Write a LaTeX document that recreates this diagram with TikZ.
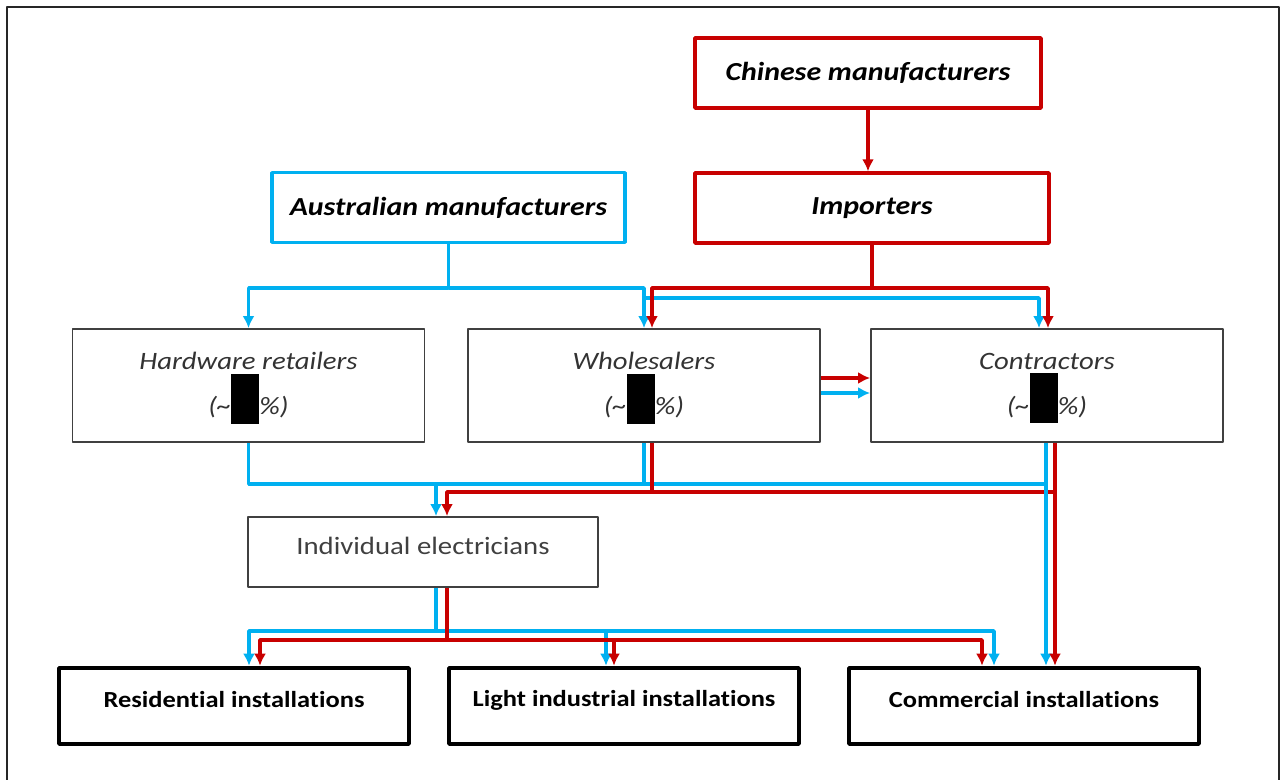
\documentclass[tikz,border=0pt]{standalone}
\usepackage{fontspec}
\setmainfont{Carlito}[FakeStretch=1.15, Ligatures=NoCommon]
\usepackage{tikz}
\usetikzlibrary{positioning,calc,arrows.meta}

\definecolor{redcol}{RGB}{200,0,0}
\definecolor{bluecol}{RGB}{0,176,240}
\definecolor{greycol}{RGB}{64,64,64}

\tikzset{
  redbox/.style={draw=redcol, line width=1.7pt, rectangle, minimum height=35pt,
    font=\fontsize{13}{15}\selectfont\bfseries\itshape},
  bluebox/.style={draw=bluecol, line width=1.7pt, rectangle, minimum height=35pt,
    font=\fontsize{13}{15}\selectfont\bfseries\itshape},
  chanbox/.style={draw=greycol, line width=0.9pt, rectangle, minimum width=176pt,
    minimum height=56.5pt, align=center, text=black!80,
    font=\fontsize{12.5}{22.5}\selectfont\itshape},
  elecbox/.style={draw=greycol, line width=0.9pt, rectangle, minimum width=175pt,
    minimum height=35pt, text=black!75, font=\fontsize{12.5}{15}\selectfont},
  usebox/.style={draw=black, line width=2.3pt, rectangle, minimum width=175pt,
    minimum height=38pt, font=\fontsize{11.5}{15}\selectfont\bfseries},
  blueline/.style={draw=bluecol, line width=1.6pt},
  redline/.style={draw=redcol, line width=1.6pt},
}
\newcommand{\hidden}{\textcolor{black}{\smash{\rule[-4.5pt]{14pt}{25pt}}}}
\newcommand{\up}[1]{\raisebox{3pt}[\height][\depth]{#1}}

\begin{document}
\begin{tikzpicture}[>={Latex[length=6pt,width=6pt]}, line join=bevel, x=0.5pt, y=-0.5pt]
  \useasboundingbox (0,0) rectangle (1281,780);
  % frame
  \draw[line width=1.1pt, black!85] (7,790) -- (7,7) -- (1279,7) -- (1279,790);
  %%
  % Node: suppliers
  \node[redbox, minimum width=173pt] (chn) at (868,73) {Chinese manufacturers};
  \node[redbox, minimum width=177pt] (imp) at (872,208) {Importers};
  \node[bluebox, minimum width=176.5pt] (aus) at (448.5,207.5) {Australian manufacturers};
  % Node: channels
  \node[chanbox] (hard) at (248.5,385.5) {Hardware retailers\\(\textasciitilde\hidden\%)};
  \node[chanbox] (whole) at (644,385.5) {Wholesalers\\(\textasciitilde\hidden\%)};
  \node[chanbox] (cont) at (1047,385.5) {Contractors\\(\textasciitilde\hidden\%)};
  \node[elecbox] (elec) at (423,552) {\up{Individual electricians}};
  % Node: installations
  \node[usebox] (res) at (234,706) {\up{Residential installations}};
  \node[usebox] (lig) at (624,706) {\up{Light industrial installations}};
  \node[usebox] (com) at (1024,706) {\up{Commercial installations}};
  %
  % bus levels and drop points
  \coordinate (busA) at (0,288);
  \coordinate (busB) at (0,298);
  \coordinate (busC) at (0,484);
  \coordinate (busD) at (0,492);
  \coordinate (busE) at (0,631);
  \coordinate (busF) at (0,640);
  \coordinate (wr) at ($(whole.north)+(8,0)$);
  \coordinate (cb) at ($(cont.north)+(-8,0)$);
  \coordinate (cr) at ($(cont.north)+(1,0)$);
  \coordinate (wrs) at ($(whole.south)+(8,0)$);
  \coordinate (cbs) at ($(cont.south)+(-1,0)$);
  \coordinate (crs) at ($(cont.south)+(8,0)$);
  \coordinate (eb) at ($(elec.north)+(13,0)$);
  \coordinate (er) at ($(elec.north)+(24,0)$);
  \coordinate (ebs) at ($(elec.south)+(13,0)$);
  \coordinate (ers) at ($(elec.south)+(24,0)$);
  \coordinate (rb) at ($(res.north)+(15,0)$);
  \coordinate (rr) at ($(res.north)+(26,0)$);
  \coordinate (lb) at ($(lig.north)+(-18,0)$);
  \coordinate (lr) at ($(lig.north)+(-10,0)$);
  \coordinate (kb) at ($(com.north)+(-30,0)$);
  \coordinate (kr) at ($(com.north)+(-42,0)$);
  %
  % Edge: chn -> imp
  \draw[redline, ->] (chn) -- (chn |- imp.north);
  % Edge: aus -> channels
  \draw[blueline, ->] (aus.south) |- (hard.north |- busA) -- (hard.north);
  \draw[blueline, ->] (aus.south |- busA) -| (whole.north);
  \draw[blueline, ->] (whole.north |- busA) |- (cb |- busB) -- (cb);
  % Edge: imp -> channels
  \draw[redline, ->] (imp.south) |- (wr |- busA) -- (wr);
  \draw[redline, ->] (imp.south |- busA) -| (cr);
  % Edge: whole -> cont
  \draw[redline, ->] ([yshift=3.75pt]whole.east) -- ([yshift=3.75pt]cont.west);
  \draw[blueline, ->] ([yshift=-3.75pt]whole.east) -- ([yshift=-3.75pt]cont.west);
  % Edge: channels -> elec
  \draw[blueline] (hard.south) |- (cbs |- busC);
  \draw[blueline] (whole.south) -- (whole.south |- busC);
  \draw[blueline, ->] (eb |- busC) -- (eb);
  \draw[redline] (wrs) -- (wrs |- busD);
  \draw[redline, ->] (crs |- busD) -| (er);
  % Edge: cont -> com
  \draw[blueline, ->] (cbs) -- (cbs |- com.north);
  \draw[redline, ->] (crs) -- (crs |- com.north);
  % Edge: elec -> installations
  \draw[blueline, ->] (ebs) |- (rb |- busE) -- (rb);
  \draw[blueline, ->] (ebs |- busE) -| (kb);
  \draw[blueline, ->] (lb |- busE) -- (lb);
  \draw[redline, ->] (ers) |- (rr |- busF) -- (rr);
  \draw[redline, ->] (ers |- busF) -| (kr);
  \draw[redline, ->] (lr |- busF) -- (lr);
  %
\end{tikzpicture}
\end{document}
